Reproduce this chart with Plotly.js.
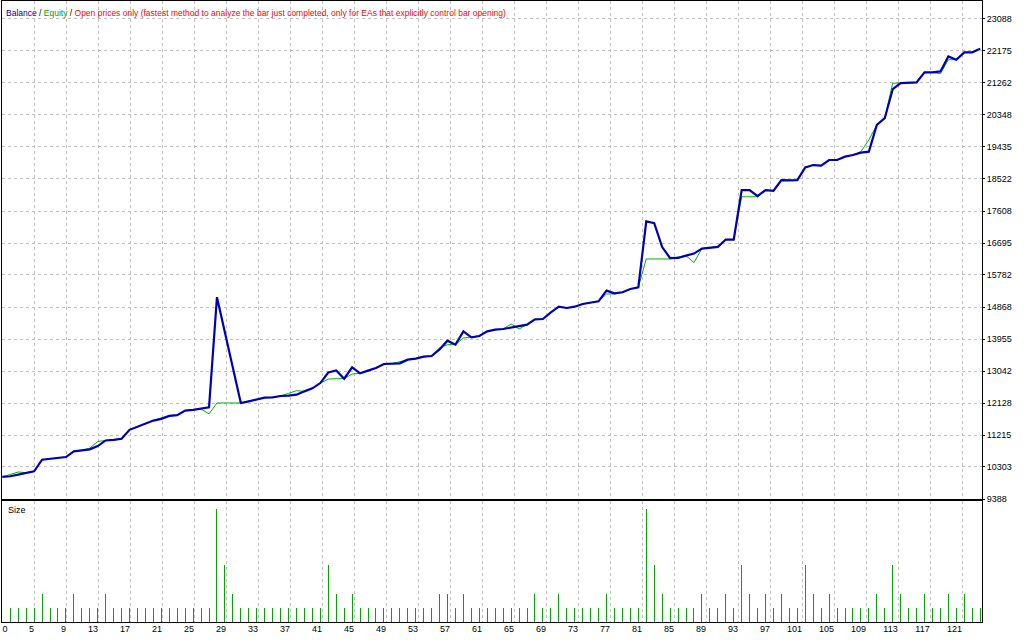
<!DOCTYPE html>
<html>
<head>
<meta charset="utf-8">
<script src="https://cdn.plot.ly/plotly-3.0.1.min.js"></script>
<style>
  html, body { margin: 0; padding: 0; background: #ffffff; }
  #chart { width: 1024px; height: 640px; }
  #chart .barlayer path { shape-rendering: crispEdges !important; }
</style>
</head>
<body>
<div id="chart"></div>
<script>
// ---- data (trade index 0..123) ----
const balance = [
  10019, 10038, 10085, 10133, 10180, 10511, 10540, 10559, 10587, 10748,
  10776, 10805, 10899, 11060, 11079, 11108, 11363, 11458, 11533, 11628,
  11675, 11761, 11780, 11912, 11931, 11959, 12007, 15149, 14146, 13133,
  12130, 12177, 12224, 12281, 12291, 12329, 12338, 12366, 12461, 12546,
  12698, 12999, 13060, 12823, 13147, 12975, 13052, 13128, 13242, 13251,
  13261, 13366, 13394, 13451, 13470, 13660, 13908, 13794, 14174, 14003,
  14041, 14174, 14222, 14241, 14288, 14336, 14365, 14517, 14526, 14717,
  14878, 14840, 14878, 14955, 15002, 15031, 15335, 15259, 15288, 15383,
  15430, 17314, 17260, 16580, 16263, 16268, 16335, 16393, 16536, 16555,
  16583, 16793, 16793, 18205, 18205, 18033, 18205, 18186, 18491, 18482,
  18491, 18854, 18920, 18901, 19063, 19063, 19159, 19206, 19273, 19302,
  20065, 20256, 21086, 21257, 21257, 21276, 21563, 21563, 21591, 22020,
  21925, 22135, 22135, 22240
];
const equity = [
  10019, 10090, 10160, 10140, 10180, 10511, 10540, 10559, 10587, 10748,
  10776, 10840, 11030, 11060, 11079, 11108, 11363, 11458, 11533, 11628,
  11704, 11761, 11780, 11912, 11931, 11959, 11817, 12130, 12130, 12130,
  12130, 12177, 12224, 12281, 12291, 12329, 12404, 12480, 12461, 12546,
  12698, 12811, 12823, 12823, 12956, 12975, 13052, 13128, 13242, 13251,
  13308, 13366, 13394, 13451, 13470, 13700, 13794, 13794, 13984, 14003,
  14041, 14174, 14222, 14241, 14384, 14241, 14365, 14517, 14526, 14717,
  14878, 14840, 14878, 14955, 15002, 15031, 15240, 15240, 15288, 15383,
  15430, 16239, 16239, 16239, 16239, 16297, 16335, 16135, 16536, 16555,
  16583, 16793, 16793, 18014, 18014, 18014, 18205, 18186, 18491, 18482,
  18491, 18854, 18920, 18901, 19063, 19063, 19159, 19206, 19302, 19636,
  20065, 20256, 21257, 21257, 21257, 21276, 21563, 21563, 21524, 21925,
  21925, 22135, 22135, 22240
];
// lot size per trade 1..123
const sizes = [
  0.1, 0.1, 0.1, 0.1, 0.2, 0.1, 0.1, 0.1, 0.2, 0.1,
  0.1, 0.1, 0.2, 0.1, 0.1, 0.1, 0.1, 0.1, 0.1, 0.1,
  0.1, 0.1, 0.1, 0.1, 0.1, 0.1, 0.8, 0.4, 0.2, 0.1,
  0.1, 0.1, 0.1, 0.1, 0.1, 0.1, 0.1, 0.1, 0.1, 0.1,
  0.4, 0.2, 0.1, 0.2, 0.1, 0.1, 0.1, 0.1, 0.1, 0.1,
  0.1, 0.1, 0.1, 0.1, 0.2, 0.2, 0.1, 0.2, 0.1, 0.1,
  0.1, 0.1, 0.1, 0.1, 0.1, 0.1, 0.2, 0.1, 0.1, 0.2,
  0.1, 0.1, 0.1, 0.1, 0.1, 0.2, 0.1, 0.1, 0.1, 0.1,
  0.8, 0.4, 0.2, 0.1, 0.1, 0.1, 0.1, 0.2, 0.1, 0.1,
  0.2, 0.1, 0.4, 0.2, 0.1, 0.2, 0.1, 0.2, 0.1, 0.1,
  0.4, 0.2, 0.1, 0.2, 0.1, 0.1, 0.1, 0.1, 0.1, 0.2,
  0.1, 0.4, 0.2, 0.1, 0.1, 0.2, 0.1, 0.1, 0.2, 0.1,
  0.2, 0.1, 0.1
];
const xTickLabels = ['0','5','9','13','17','21','25','29','33','37','41','45','49','53','57','61',
  '65','69','73','77','81','85','89','93','97','101','105','109','113','117','121'];
const yTickLabels = ['9388','10303','11215','12128','13042','13955','14868','15782','16695',
  '17608','18522','19435','20348','21262','22175','23088'];
const titleParts = ['Balance', 'Equity',
  'Open prices only (fastest method to analyze the bar just completed, only for EAs that explicitly control bar opening)'];
const panelLabel = 'Size';

// ---- derived ----
const idx = balance.map((_, i) => i);
const tradeIdx = sizes.map((_, i) => i + 1);
const PX = 7.95;                 // pixels per trade
const xRange = [-0.04, -0.04 + 980 / PX];
const gridVals = xTickLabels.filter(s => +s > 0).map(s => (+s - 1) * 8 / PX);
const labelVals = xTickLabels.map(s => {
  const L = +s;
  const g = L === 0 ? 5.4 / PX : (L - 1) * 8 / PX;
  return g - (s.length * 5 / 2 + 0.3) / PX;
});
const yVals = yTickLabels.map(Number);

const FONT = 'Liberation Sans, Arial, sans-serif';
const GRID = '#c0c0c0';

const traces = [
  { x: idx, y: equity, type: 'scatter', mode: 'lines', xaxis: 'x', yaxis: 'y',
    line: { color: '#00b000', width: 1 }, hoverinfo: 'skip' },
  { x: idx, y: balance, type: 'scatter', mode: 'lines', xaxis: 'x', yaxis: 'y',
    line: { color: '#0000b4', width: 2.2 }, hoverinfo: 'skip' },
  { x: tradeIdx, y: sizes, type: 'bar', xaxis: 'x2', yaxis: 'y2', width: 1 / PX,
    marker: { color: '#00a800', line: { width: 0 } }, hoverinfo: 'skip' },
  // carrier trace so the label axis is drawn
  { x: [tradeIdx[0]], y: [0], type: 'scatter', mode: 'markers', xaxis: 'x3', yaxis: 'y2',
    marker: { opacity: 0, size: 1 }, hoverinfo: 'skip' }
];

const layout = {
  width: 1024, height: 640,
  margin: { l: 2, r: 42, t: 1, b: 18, pad: 0 },
  paper_bgcolor: '#ffffff', plot_bgcolor: '#ffffff',
  showlegend: false,
  font: { family: FONT, size: 9, color: '#000000' },
  title: {
    text: '<span style="color:#0000a0">' + titleParts[0] + '</span> / ' +
          '<span style="color:#00a000">' + titleParts[1] + '</span> / ' +
          '<span style="color:#ff0000">' + titleParts[2] + '</span>',
    x: 6 / 1024, xref: 'container', xanchor: 'left',
    y: 1 - 13 / 640, yref: 'container', yanchor: 'middle',
    font: { family: FONT, size: 8.5, color: '#000000' }
  },
  xaxis: {
    domain: [0, 1], range: xRange, anchor: 'y',
    showline: true, mirror: true, linecolor: '#000000', linewidth: 1,
    tickmode: 'array', tickvals: gridVals, showticklabels: false, ticks: '',
    showgrid: true, gridcolor: GRID, griddash: '3px,3px', gridwidth: 1, zeroline: false
  },
  yaxis: {
    domain: [0.198, 1], range: [9388, 23601], anchor: 'x', side: 'right',
    showline: true, mirror: true, linecolor: '#000000', linewidth: 1,
    tickmode: 'array', tickvals: yVals, ticktext: yTickLabels,
    ticks: 'outside', ticklen: 2, tickcolor: '#000000',
    tickfont: { family: FONT, size: 9, color: '#000000' },
    showgrid: true, gridcolor: GRID, griddash: '3px,3px', gridwidth: 1, zeroline: false
  },
  xaxis2: {
    domain: [0, 1], range: xRange, anchor: 'y2',
    showline: true, mirror: true, linecolor: '#000000', linewidth: 1,
    tickmode: 'array', tickvals: gridVals, showticklabels: false, ticks: '',
    showgrid: true, gridcolor: GRID, griddash: '3px,3px', gridwidth: 1, zeroline: false
  },
  xaxis3: {
    overlaying: 'x2', anchor: 'y2', side: 'bottom', range: xRange,
    tickmode: 'array', tickvals: labelVals, ticktext: xTickLabels,
    ticks: '', showgrid: false, showline: false, zeroline: false,
    tickfont: { family: FONT, size: 9, color: '#000000' }
  },
  yaxis2: {
    domain: [0, 0.1948], range: [0, 0.855], anchor: 'x2',
    showline: true, mirror: true, linecolor: '#000000', linewidth: 1,
    showgrid: false, showticklabels: false, ticks: '', zeroline: false
  },
  annotations: [{
    text: panelLabel, xref: 'paper', yref: 'paper',
    x: 4 / 980, y: (622 - 510) / 621, xanchor: 'left', yanchor: 'middle',
    showarrow: false, font: { family: FONT, size: 9, color: '#000000' }
  }],
  bargap: 0
};

Plotly.newPlot('chart', traces, layout, { staticPlot: true, displayModeBar: false });
</script>
</body>
</html>
